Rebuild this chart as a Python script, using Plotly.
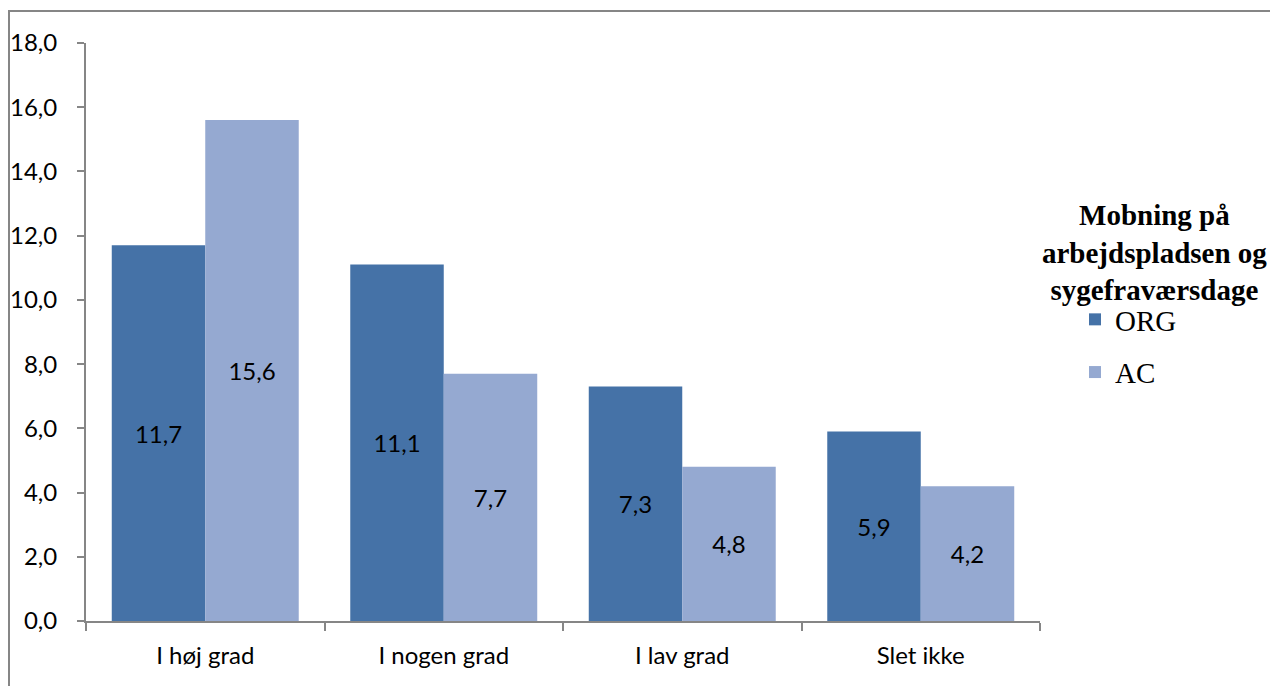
import plotly.graph_objects as go

categories = ["I høj grad", "I nogen grad", "I lav grad", "Slet ikke"]
org_values = [11.7, 11.1, 7.3, 5.9]
ac_values = [15.6, 7.7, 4.8, 4.2]
y_ticks = [0, 2, 4, 6, 8, 10, 12, 14, 16, 18]
legend_title = "Mobning på<br>arbejdspladsen og<br>sygefraværsdage"

ORG_COLOR = "#4572A7"
AC_COLOR = "#95A9D1"
GRAY = "#868686"
FONT = "Lato, 'Open Sans', sans-serif"
SERIF = "'Liberation Serif', 'Times New Roman', serif"

fig = go.Figure()
fig.add_trace(go.Bar(
    name="ORG", x=categories, y=org_values, marker=dict(color=ORG_COLOR, line=dict(width=0)),
    text=[f"{v:.1f}".replace(".", ",") for v in org_values], textposition="inside",
    insidetextanchor="middle", textangle=0,
    textfont=dict(family=FONT, size=24, color="black"), legendgroup="g1"))
fig.add_trace(go.Bar(
    name="AC", x=categories, y=ac_values, marker=dict(color=AC_COLOR, line=dict(width=0)),
    text=[f"{v:.1f}".replace(".", ",") for v in ac_values], textposition="inside",
    insidetextanchor="middle", textangle=0,
    textfont=dict(family=FONT, size=24, color="black"), legendgroup="g2"))

# page body has an 8px margin, so the figure is drawn at (8, 8)
OFF = 8
W, H = 1278 - OFF, 686 - OFF
L, T = 86 - OFF, 43 - OFF
pw, ph = 954, 578
R, B = W - L - pw, H - T - ph

def px_x(x):
    return (x - OFF - L) / pw

def px_y(y):
    return (T + ph - (y - OFF)) / ph

fig.update_layout(
    width=W, height=H, barmode="group", bargap=0.216, bargroupgap=0,
    margin=dict(l=L, r=R, t=T, b=B, autoexpand=False),
    paper_bgcolor="white", plot_bgcolor="white",
    separators=",.",
    font=dict(family=FONT, size=24, color="black"),
    showlegend=True,
    legend=dict(x=px_x(1075), y=px_y(294), xanchor="left", yanchor="top",
                font=dict(family=SERIF, size=29, color="black"),
                tracegroupgap=12, itemwidth=30, bgcolor="rgba(0,0,0,0)"),
    xaxis=dict(showline=True, linecolor=GRAY, linewidth=2, ticks="outside", tickson="boundaries",
               ticklen=8, tickcolor=GRAY, tickwidth=2, showgrid=False, ticklabelstandoff=12,
               tickfont=dict(family=FONT, size=24, color="black")),
    yaxis=dict(range=[0, 18], tickvals=y_ticks, tickformat=".1f", showline=True, linecolor=GRAY,
               linewidth=2, ticks="outside", ticklen=7, tickcolor=GRAY, tickwidth=2,
               showgrid=False, zeroline=False, ticklabelstandoff=15,
               tickfont=dict(family=FONT, size=24, color="black")),
    annotations=[dict(text="<b>" + legend_title + "</b>", xref="paper", yref="paper",
                      x=px_x(1154), y=px_y(197), xanchor="center", yanchor="top", showarrow=False,
                      align="center",
                      font=dict(family=SERIF, size=29, color="black"))],
    shapes=[dict(type="rect", xref="paper", yref="paper",
                 x0=px_x(9), x1=px_x(1276), y0=px_y(720), y1=px_y(11),
                 line=dict(color=GRAY, width=2), fillcolor="rgba(0,0,0,0)", layer="below")],
)

fig.write_html("out.html")
